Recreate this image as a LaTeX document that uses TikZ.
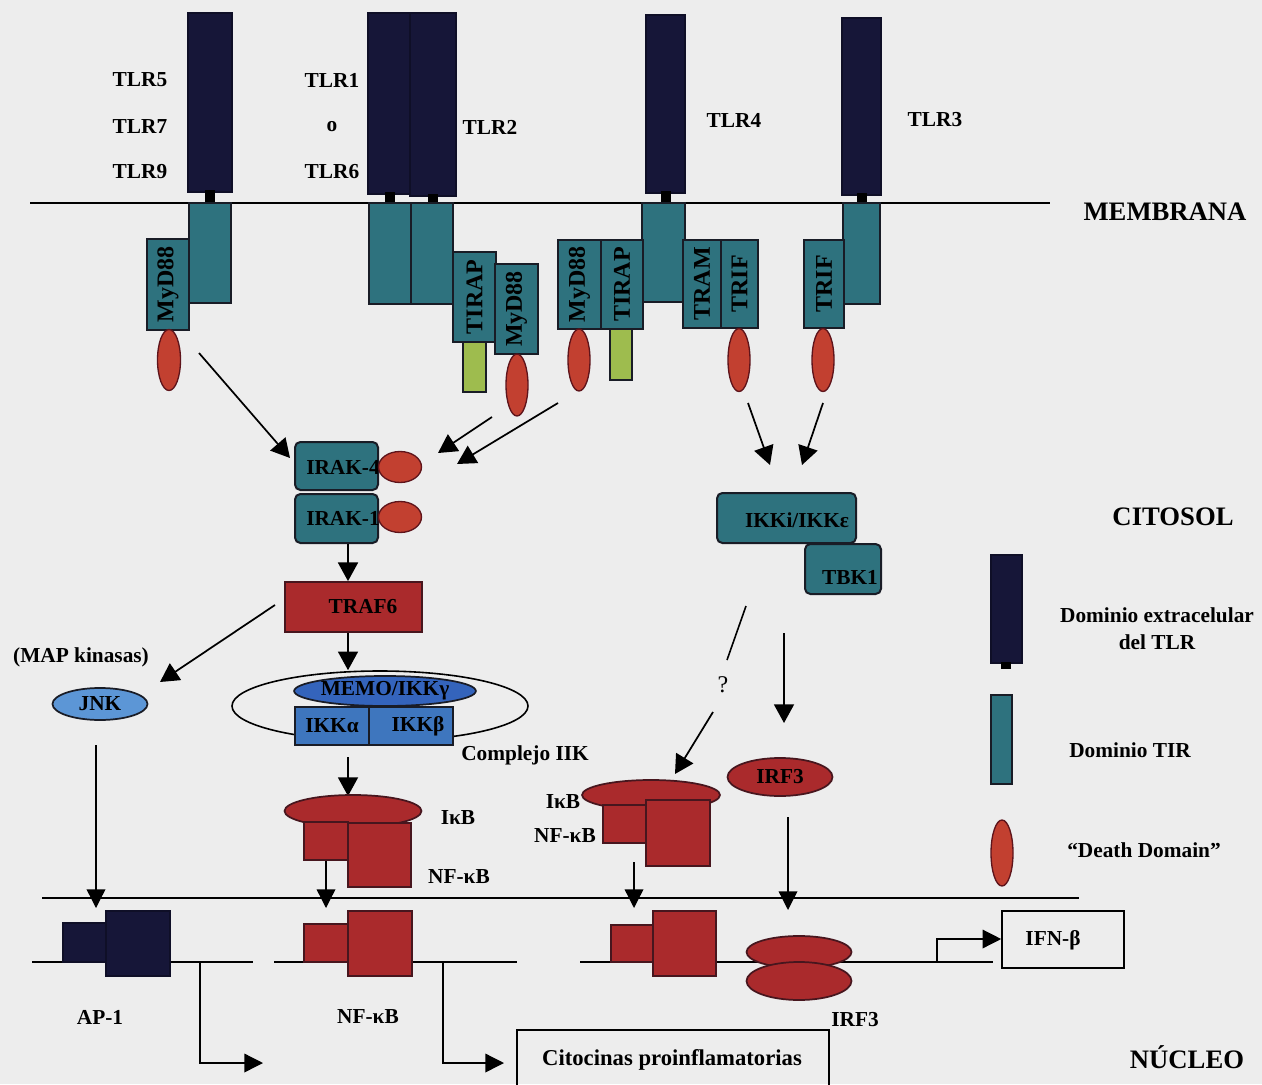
\documentclass[tikz,border=0pt]{standalone}
\usepackage{fontspec}
\setmainfont{Liberation Serif}
\usetikzlibrary{shapes.geometric,arrows.meta}
\definecolor{bgc}{RGB}{237,237,237}
\definecolor{navyc}{RGB}{22,22,56}
\definecolor{tirc}{RGB}{46,114,126}
\definecolor{redc}{RGB}{170,42,44}
\definecolor{ddc}{RGB}{194,64,48}
\definecolor{grnc}{RGB}{158,188,78}
\definecolor{jnkc}{RGB}{92,150,214}
\definecolor{memoc}{RGB}{52,100,188}
\definecolor{ikkc}{RGB}{62,118,190}
\definecolor{outl}{RGB}{25,28,38}
\newcommand\RB[7]{\node[#2,minimum width={(#5-#3)*0.75pt},minimum height={(#6-#4)*0.75pt}] (#1) at ({(#3+#5)/2},{(#4+#6)/2}) {#7};}
\newcommand\EL[7]{\node[ellipse,#2,minimum width={#5*0.75pt},minimum height={#6*0.75pt}] (#1) at (#3,#4) {#7};}
\newcommand\vtx[1]{\rotatebox{90}{#1}}
\begin{document}
\begin{tikzpicture}[x=0.75pt,y=-0.75pt,
  font=\fontsize{16}{19}\selectfont\bfseries,
  every node/.style={inner sep=0pt},
  navyb/.style={rectangle,fill=navyc,draw=navyc!70!black,line width=0.8pt},
  stub/.style={rectangle,fill=black},
  tirb/.style={rectangle,fill=tirc,draw=outl,line width=1.3pt,font=\fontsize{18}{20}\selectfont\bfseries},
  irakb/.style={rectangle,rounded corners=4pt,fill=tirc,draw=outl,line width=1.5pt},
  redb/.style={rectangle,fill=redc,draw=outl!80!red,line width=1.3pt},
  redst/.style={fill=redc,draw=outl!80!red,line width=1.3pt},
  grnb/.style={rectangle,fill=grnc,draw=outl,line width=1.2pt},
  ddst/.style={fill=ddc,draw=outl!70!red,line width=1pt},
  ikkbx/.style={rectangle,fill=ikkc,draw=outl,line width=1.3pt},
  plainbx/.style={rectangle,draw=black,line width=1.2pt},
  head/.style={font=\fontsize{20}{22}\selectfont\bfseries},
  arr/.style={line width=1.3pt,-{Triangle[length=14pt,width=15pt]}},
  arrt/.style={line width=1pt,-{Triangle[length=14pt,width=14pt]}},
  ln/.style={line width=1.2pt}]
\fill[bgc] (0,0) rectangle (1262,1084);
\useasboundingbox (0,0) rectangle (1262,1084);
\clip (0,0) rectangle (1262,1084);

% membrane
\coordinate (m1) at (30,203); \coordinate (m2) at (1050,203);
\draw[ln] (m1) -- (m2);
\node[head] (memb) at (1165,212) {MEMBRANA};

% TLR5/7/9
\RB{tlr5}{navyb}{188}{13}{232}{192}{}
\RB{stub5}{stub}{205}{190}{215}{204}{}
\RB{tir5}{tirb}{189}{203}{231}{303}{}
\RB{myd1}{tirb}{147}{239}{189}{330}{\vtx{MyD88}}
\EL{dd1}{ddst}{169}{360}{23}{61}{}
\node (l5) at (140,80) {TLR5};
\node (l7) at (140,127) {TLR7};
\node (l9) at (140,172) {TLR9};

% TLR1/6 + TLR2
\RB{tlr1}{navyb}{368}{13}{410}{194}{}
\RB{tlr2}{navyb}{410}{13}{456}{196}{}
\RB{stub1}{stub}{385}{192}{395}{204}{}
\RB{stub2}{stub}{428}{194}{438}{204}{}
\RB{tir1}{tirb}{369}{203}{411}{304}{}
\RB{tir2}{tirb}{411}{203}{453}{304}{}
\RB{tirap1}{tirb}{453}{252}{496}{342}{\vtx{TIRAP}}
\RB{grn1}{grnb}{463}{342}{486}{392}{}
\RB{myd2}{tirb}{495}{264}{538}{354}{\vtx{MyD88}}
\EL{dd2}{ddst}{517}{385}{22}{62}{}
\node (l1) at (332,80) {TLR1};
\node (lo) at (332,127) {o};
\node (l6) at (332,172) {TLR6};
\node (l2) at (490,127) {TLR2};

% TLR4
\RB{tlr4}{navyb}{646}{15}{685}{193}{}
\RB{stub4}{stub}{661}{191}{671}{204}{}
\RB{tir4}{tirb}{642}{203}{685}{302}{}
\RB{myd3}{tirb}{558}{240}{601}{329}{\vtx{MyD88}}
\RB{tirap2}{tirb}{601}{240}{643}{329}{\vtx{TIRAP}}
\EL{dd3}{ddst}{579}{360}{22}{62}{}
\RB{grn2}{grnb}{610}{329}{632}{380}{}
\RB{tram}{tirb}{683}{240}{721}{328}{\vtx{TRAM}}
\RB{trif1}{tirb}{721}{240}{758}{328}{\vtx{TRIF}}
\EL{dd4}{ddst}{739}{360}{22}{63}{}
\node (l4) at (734,120) {TLR4};

% TLR3
\RB{tlr3}{navyb}{842}{18}{881}{195}{}
\RB{stub3}{stub}{857}{193}{867}{204}{}
\RB{tir3}{tirb}{843}{203}{880}{304}{}
\RB{trif2}{tirb}{804}{240}{844}{328}{\vtx{TRIF}}
\EL{dd5}{ddst}{823}{360}{22}{63}{}
\node (l3) at (935,120) {TLR3};

% arrows from adaptors
\coordinate (a1s) at (199,353); \coordinate (a1e) at (290,458);
\coordinate (a2s) at (492,417); \coordinate (a2e) at (438,453);
\coordinate (a3s) at (558,403); \coordinate (a3e) at (457,464);
\coordinate (a4s) at (748,403); \coordinate (a4e) at (770,465);
\coordinate (a5s) at (823,403); \coordinate (a5e) at (802,465);
\draw[arr] (a1s) -- (a1e);
\draw[arr] (a2s) -- (a2e);
\draw[arr] (a3s) -- (a3e);
\draw[arr] (a4s) -- (a4e);
\draw[arr] (a5s) -- (a5e);

% IRAK
\RB{irak4}{irakb}{295}{442}{378}{490}{}
\node (tirak4) at (343,467) {IRAK-4};
\EL{e4}{ddst}{400}{467}{43}{31}{}
\RB{irak1}{irakb}{295}{494}{378}{543}{}
\node (tirak1) at (343,518) {IRAK-1};
\EL{e1}{ddst}{400}{517}{43}{31}{}

% TRAF6
\RB{traf6}{redb}{285}{582}{422}{632}{}
\node (ttraf6) at (363,607) {TRAF6};
\coordinate (ax) at (348,0);
\draw[arr] (irak1.south -| ax) -- (traf6.north -| ax);

% IKK complex
\EL{cplx}{draw=black,line width=1.2pt}{380}{706}{296}{70}{}
\draw[arr] (traf6.south -| ax) -- (cplx.north -| ax);
\EL{memo}{fill=memoc,draw=outl,line width=1.3pt}{385}{691}{160}{30}{MEMO/IKKγ}
\RB{ikka}{ikkbx}{295}{707}{369}{745}{IKKα}
\RB{ikkb}{ikkbx}{369}{707}{453}{745}{}
\node (tikkb) at (418,726) {IKKβ};
\node (cplxl) at (525,755) {Complejo IIK};

% JNK
\node (mapk) at (81,657) {(MAP kinasas)};
\EL{jnk}{fill=jnkc,draw=outl,line width=1.3pt}{100}{704}{95}{32}{JNK}
\coordinate (j1) at (275,605); \coordinate (j2) at (160,682);
\draw[arr] (j1) -- (j2);
\coordinate (j3) at (96,745); \coordinate (j4) at (96,908);
\draw[arrt] (j3) -- (j4);

% left IkB/NF-kB
\coordinate (k1) at (348,757); \coordinate (k2) at (348,796);
\draw[arr] (k1) -- (k2);
\EL{ikb1}{redst}{353}{811}{137}{32}{}
\RB{nfs1}{redb}{304}{822}{348}{860}{}
\RB{nfb1}{redb}{348}{823}{411}{887}{}
\node (tikb1) at (458,818) {IκB};
\node (tnf1) at (459,877) {NF-κB};
\coordinate (k3) at (325,908);
\draw[arrt] (nfs1.south) -- (nfs1.south |- k3);

% IKKi / TBK1
\RB{ikki}{irakb}{717}{493}{856}{543}{}
\node (tikki) at (797,520) {IKKi/IKKε};
\RB{tbk1}{irakb}{805}{544}{881}{594}{}
\node (ttbk1) at (850,577) {TBK1};

% question path
\coordinate (q1) at (746,606); \coordinate (q2) at (727,660);
\draw[line width=1.2pt] (q1) -- (q2);
\node[font=\fontsize{18}{20}\selectfont\mdseries] (qm) at (723,685) {?};
\coordinate (q3) at (713,712); \coordinate (q4) at (675,774);
\draw[arr] (q3) -- (q4);

% TBK1 -> IRF3
\coordinate (t1) at (784,633); \coordinate (t2) at (784,723);
\draw[arr] (t1) -- (t2);
\EL{irf3a}{redst}{780}{777}{105}{38}{IRF3}

% right IkB/NF-kB
\EL{ikb2}{redst}{651}{795}{138}{30}{}
\RB{nfs2}{redb}{603}{805}{646}{843}{}
\RB{nfb2}{redb}{646}{800}{710}{866}{}
\node (tikb2) at (563,802) {IκB};
\node (tnf2) at (565,836) {NF-κB};
\coordinate (r1) at (634,862); \coordinate (r2) at (634,908);
\draw[arrt] (r1) -- (r2);
\coordinate (r3) at (788,817); \coordinate (r4) at (788,910);
\draw[arrt] (r3) -- (r4);

% nuclear envelope
\coordinate (n1) at (42,898); \coordinate (n2) at (1079,898);
\draw[ln] (n1) -- (n2);

% DNA lines
\coordinate (d1a) at (32,962); \coordinate (d1b) at (253,962);
\coordinate (d2a) at (274,962); \coordinate (d2b) at (517,962);
\coordinate (d3a) at (580,962); \coordinate (d3b) at (993,962);
\draw[line width=1.1pt] (d1a) -- (d1b);
\draw[line width=1.1pt] (d2a) -- (d2b);
\draw[line width=1.1pt] (d3a) -- (d3b);

% AP-1
\RB{ap1s}{navyb}{63}{923}{106}{962}{}
\RB{ap1b}{navyb}{106}{911}{170}{976}{}
\node (tap1) at (100,1017) {AP-1};
\coordinate (b1a) at (200,962); \coordinate (b1b) at (200,1063); \coordinate (b1c) at (263,1063);
\draw[arrt] (b1a) -- (b1b) -- (b1c);

% NF-kB nucleus
\RB{nfs3}{redb}{304}{924}{348}{962}{}
\RB{nfb3}{redb}{348}{911}{412}{976}{}
\node (tnf3) at (368,1017) {NF-κB};
\coordinate (b2a) at (443,962); \coordinate (b2b) at (443,1063); \coordinate (b2c) at (504,1063);
\draw[arrt] (b2a) -- (b2b) -- (b2c);
\RB{cito}{plainbx}{517}{1030}{829}{1100}{}
\node[font=\fontsize{17}{19}\selectfont\bfseries] (tcito) at (672,1060) {Citocinas proinflamatorias};

% right nucleus
\RB{nfs4}{redb}{611}{925}{653}{962}{}
\RB{nfb4}{redb}{653}{911}{716}{976}{}
\EL{irf3b}{redst}{799}{952}{105}{32}{}
\EL{irf3c}{redst}{799}{981}{105}{38}{}
\node (tirf3) at (855,1020) {IRF3};
\RB{ifn}{plainbx}{1002}{911}{1124}{968}{}
\node (tifn) at (1053,940) {IFN-β};
\coordinate (b3a) at (937,962); \coordinate (b3b) at (937,939);
\draw[arrt] (b3a) -- (b3b) -- (b3b -| ifn.west);

% legend
\node[head] (cit) at (1173,517) {CITOSOL};
\RB{lg1}{navyb}{991}{555}{1022}{663}{}
\RB{lg1s}{stub}{1001}{662}{1011}{669}{}
\node (tl1) at (1157,615) {Dominio extracelular};
\node (tl1b) at (1157,642) {del TLR};
\RB{lg2}{tirb}{991}{695}{1012}{784}{}
\node (tl2) at (1130,750) {Dominio TIR};
\EL{lg3}{ddst}{1002}{853}{22}{66}{}
\node (tl3) at (1144,850) {“Death Domain”};
\node[head] (nuc) at (1187,1057) {NÚCLEO};
\end{tikzpicture}
\end{document}
